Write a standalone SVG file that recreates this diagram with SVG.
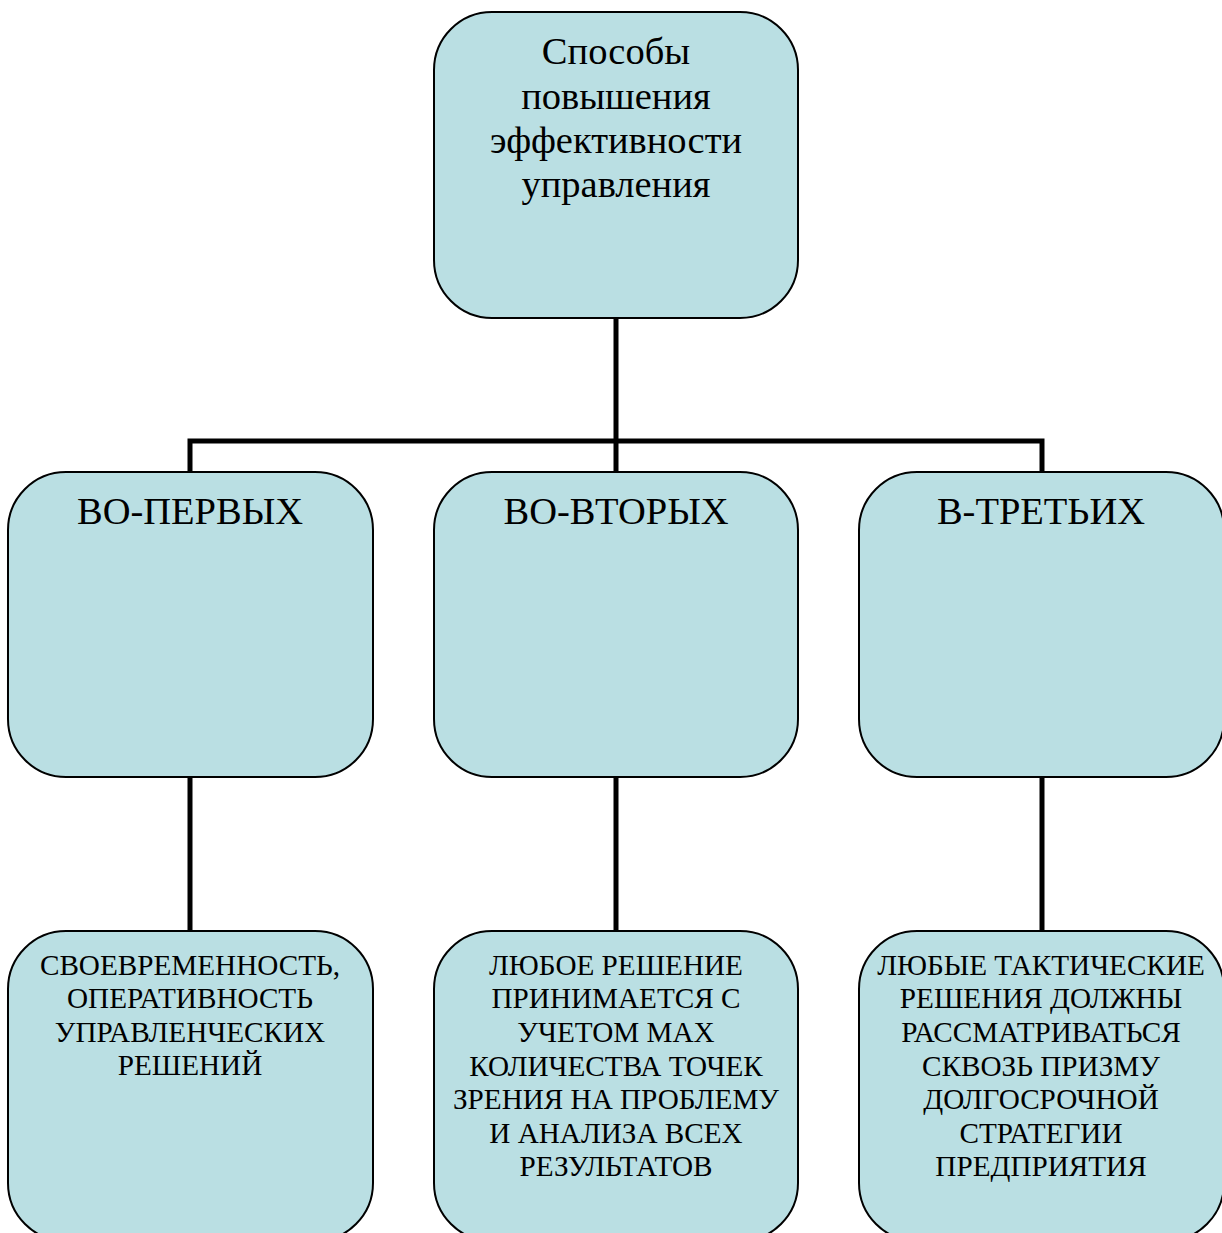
<svg xmlns="http://www.w3.org/2000/svg" width="1222" height="1233" viewBox="0 0 1222 1233">
  <style>
    .box { fill: #badfe3; stroke: #000; stroke-width: 2; }
    .big { font-family: "Liberation Serif", "Times New Roman", serif; font-size: 38.5px; fill: #000; text-anchor: middle; }
    .small { font-family: "Liberation Serif", "Times New Roman", serif; font-size: 29.2px; fill: #000; text-anchor: middle; }
    .link { fill: none; stroke: #000; stroke-width: 5; }
  </style>
  <rect width="1222" height="1233" fill="#fff"/>

  <!-- connectors -->
  <g id="connectors">
    <path class="link" d="M616 318 V441 M190 472 V441 H1042 V472 M616 441 V472"/>
    <path class="link" d="M190 777 V931 M616 777 V931 M1042 777 V931"/>
  </g>

  <!-- root -->
  <g id="root">
    <rect class="box" x="434" y="12" width="364" height="306" rx="58" ry="58"/>
    <text class="big" x="616" y="64">Способы</text>
    <text class="big" x="616" y="109">повышения</text>
    <text class="big" x="616" y="153">эффективности</text>
    <text class="big" x="616" y="197">управления</text>
  </g>

  <!-- second level -->
  <g id="first">
    <rect class="box" x="8" y="472" width="365" height="305" rx="58" ry="58"/>
    <text class="big" x="190" y="524">ВО-ПЕРВЫХ</text>
  </g>
  <g id="second">
    <rect class="box" x="434" y="472" width="364" height="305" rx="58" ry="58"/>
    <text class="big" x="616" y="524">ВО-ВТОРЫХ</text>
  </g>
  <g id="third">
    <rect class="box" x="859" y="472" width="365" height="305" rx="58" ry="58"/>
    <text class="big" x="1041" y="524">В-ТРЕТЬИХ</text>
  </g>

  <!-- third level -->
  <g id="first-detail">
    <rect class="box" x="8" y="931" width="365" height="310" rx="58" ry="58"/>
    <text class="small" x="190" y="975">СВОЕВРЕМЕННОСТЬ,</text>
    <text class="small" x="190" y="1008">ОПЕРАТИВНОСТЬ</text>
    <text class="small" x="190" y="1042">УПРАВЛЕНЧЕСКИХ</text>
    <text class="small" x="190" y="1075">РЕШЕНИЙ</text>
  </g>
  <g id="second-detail">
    <rect class="box" x="434" y="931" width="364" height="310" rx="58" ry="58"/>
    <text class="small" x="616" y="975">ЛЮБОЕ РЕШЕНИЕ</text>
    <text class="small" x="616" y="1008">ПРИНИМАЕТСЯ С</text>
    <text class="small" x="616" y="1042">УЧЕТОМ MAX</text>
    <text class="small" x="616" y="1076">КОЛИЧЕСТВА ТОЧЕК</text>
    <text class="small" x="616" y="1109">ЗРЕНИЯ НА ПРОБЛЕМУ</text>
    <text class="small" x="616" y="1143">И АНАЛИЗА ВСЕХ</text>
    <text class="small" x="616" y="1176">РЕЗУЛЬТАТОВ</text>
  </g>
  <g id="third-detail">
    <rect class="box" x="859" y="931" width="365" height="310" rx="58" ry="58"/>
    <text class="small" x="1041" y="975">ЛЮБЫЕ ТАКТИЧЕСКИЕ</text>
    <text class="small" x="1041" y="1008">РЕШЕНИЯ ДОЛЖНЫ</text>
    <text class="small" x="1041" y="1042">РАССМАТРИВАТЬСЯ</text>
    <text class="small" x="1041" y="1076">СКВОЗЬ ПРИЗМУ</text>
    <text class="small" x="1041" y="1109">ДОЛГОСРОЧНОЙ</text>
    <text class="small" x="1041" y="1143">СТРАТЕГИИ</text>
    <text class="small" x="1041" y="1176">ПРЕДПРИЯТИЯ</text>
  </g>
</svg>
